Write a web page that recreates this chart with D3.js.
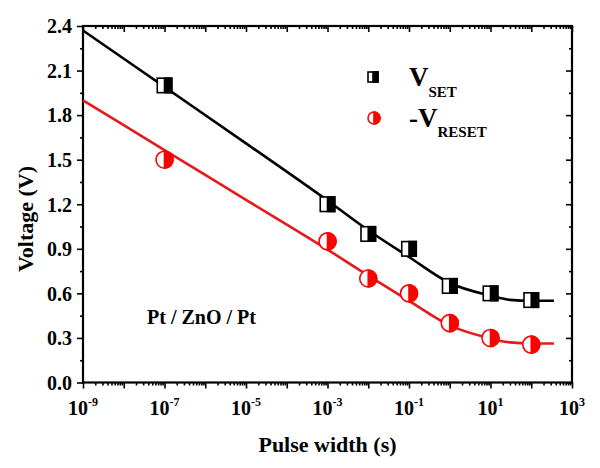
<!DOCTYPE html>
<html><head><meta charset="utf-8">
<script src="https://cdn.jsdelivr.net/npm/d3@7/dist/d3.min.js"></script>
</head><body style="margin:0"><svg id="c" width="600" height="468"></svg>
<script>
const pulseX   = [1e-7, 1e-3, 1e-2, 1e-1, 1, 10, 100];
const vSet     = [2.00, 1.20, 1.00, 0.90, 0.65, 0.60, 0.555];
const vReset   = [1.50, 0.95, 0.70, 0.60, 0.40, 0.30, 0.255];
const fitX     = [1e-9, 1e-7, 1e-5, 1e-3, 1e-2, 1e-1, 1, 10, 30, 100, 360];
const fitSet   = [2.37, 1.99, 1.61, 1.225, 1.025, 0.845, 0.67, 0.585, 0.556, 0.55, 0.55];
const fitReset = [1.90, 1.565, 1.23, 0.895, 0.72, 0.55, 0.385, 0.297, 0.27, 0.263, 0.263];
const yTicks   = [0.0, 0.3, 0.6, 0.9, 1.2, 1.5, 1.8, 2.1, 2.4];
const xLabelExp = [-9, -7, -5, -3, -1, 1, 3];
const seriesNames = ["SET", "RESET"];

const FONT = "Liberation Serif";
const svg = d3.select("#c");
const L = 83, R = 572, T = 26, B = 382.5;
const x = d3.scaleLog().domain([1e-9, 1e3]).range([L, R]);
const y = d3.scaleLinear().domain([0, 2.4]).range([B, T]);

const majX = d3.range(-9, 4).map(e => Math.pow(10, e));
const minX = [];
for (let e = -9; e < 3; e++) for (let k = 2; k <= 9; k++) minX.push(k * Math.pow(10, e));
const minY = d3.range(0.15, 2.4, 0.3);

function txt(parent){ return parent.append("text").attr("font-family", FONT).attr("font-weight","bold").attr("fill","#000"); }

function axisG(axis, tr){ const g = svg.append("g").attr("transform", tr).call(axis);
  g.attr("font-family", FONT).attr("font-size", 20).attr("font-weight","bold");
  g.select(".domain").remove(); g.selectAll("line").attr("stroke","#000").attr("stroke-width",1.6); return g; }

axisG(d3.axisBottom(x).tickValues(majX).tickSize(6).tickFormat(""), `translate(0,${B})`);
axisG(d3.axisBottom(x).tickValues(minX).tickSize(3).tickFormat(""), `translate(0,${B})`);
axisG(d3.axisBottom(x).tickValues(majX).tickSize(6).tickFormat(""), `translate(0,${T})`);
axisG(d3.axisBottom(x).tickValues(minX).tickSize(3).tickFormat(""), `translate(0,${T})`);
const gl = axisG(d3.axisLeft(y).tickValues(yTicks).tickSize(6).tickPadding(5).tickFormat(d3.format(".1f")), `translate(${L},0)`);
gl.selectAll("text").attr("fill","#000").attr("dy","0.34em").attr("font-family", FONT).attr("font-weight","bold");
axisG(d3.axisLeft(y).tickValues(minY).tickSize(3).tickFormat(""), `translate(${L},0)`);
axisG(d3.axisLeft(y).tickValues(yTicks).tickSize(6).tickFormat(""), `translate(${R},0)`);
axisG(d3.axisLeft(y).tickValues(minY).tickSize(3).tickFormat(""), `translate(${R},0)`);

svg.append("rect").attr("x", L).attr("y", T).attr("width", R - L).attr("height", B - T)
  .attr("fill","none").attr("stroke","#000").attr("stroke-width",2.2);

xLabelExp.forEach(e => {
  const t = txt(svg).attr("x", x(Math.pow(10, e))).attr("y", 415).attr("text-anchor","middle").attr("font-size",20);
  t.append("tspan").text("10");
  t.append("tspan").attr("dy",-9).attr("font-size",12).text(String(e));
});

txt(svg).attr("x", (L + R) / 2).attr("y", 452).attr("text-anchor","middle").attr("font-size",22).text("Pulse width (s)");
txt(svg).attr("transform","translate(33,219) rotate(-90)").attr("text-anchor","middle").attr("font-size",22).text("Voltage (V)");
txt(svg).attr("x",147).attr("y",324).attr("font-size",20).text("Pt / ZnO / Pt");

const line = d3.line().x(d => x(d[0])).y(d => y(d[1])).curve(d3.curveMonotoneX);
svg.append("path").datum(fitX.map((v,i)=>[v, fitSet[i]])).attr("d", line).attr("fill","none").attr("stroke","#000").attr("stroke-width",2.6);
svg.append("path").datum(fitX.map((v,i)=>[v, fitReset[i]])).attr("d", line).attr("fill","none").attr("stroke","#e41a1c").attr("stroke-width",2.6);

const RED = "#ff0000";
function halfSquare(g, cx, cy, s){
  g.append("rect").attr("x",cx-s/2).attr("y",cy-s/2).attr("width",s).attr("height",s).attr("fill","#fff").attr("stroke","#000").attr("stroke-width",1.6);
  g.append("rect").attr("x",cx).attr("y",cy-s/2).attr("width",s/2).attr("height",s).attr("fill","#000").attr("stroke","#000").attr("stroke-width",1.6);
}
function halfCircle(g, cx, cy, r){
  g.append("circle").attr("cx",cx).attr("cy",cy).attr("r",r).attr("fill","#fff").attr("stroke",RED).attr("stroke-width",1.6);
  g.append("path").attr("d",`M${cx},${cy-r}A${r},${r} 0 0 1 ${cx},${cy+r}Z`).attr("fill",RED).attr("stroke",RED).attr("stroke-width",1.6);
}
const gm = svg.append("g");
pulseX.forEach((p,i) => halfSquare(gm, x(p), y(vSet[i]), 14.5));
pulseX.forEach((p,i) => halfCircle(gm, x(p), y(vReset[i]), 8.5));

const lg = svg.append("g");
halfSquare(lg, 373, 77, 10);
halfCircle(lg, 374, 118, 6);
const t1 = txt(lg).attr("x",409).attr("y",86).attr("font-size",27);
t1.append("tspan").text("V");
t1.append("tspan").attr("dy",11).attr("font-size",15).text(seriesNames[0]);
const t2 = txt(lg).attr("x",409).attr("y",127).attr("font-size",27);
t2.append("tspan").text("-V");
t2.append("tspan").attr("dy",10).attr("font-size",15).text(seriesNames[1]);
</script></body></html>
